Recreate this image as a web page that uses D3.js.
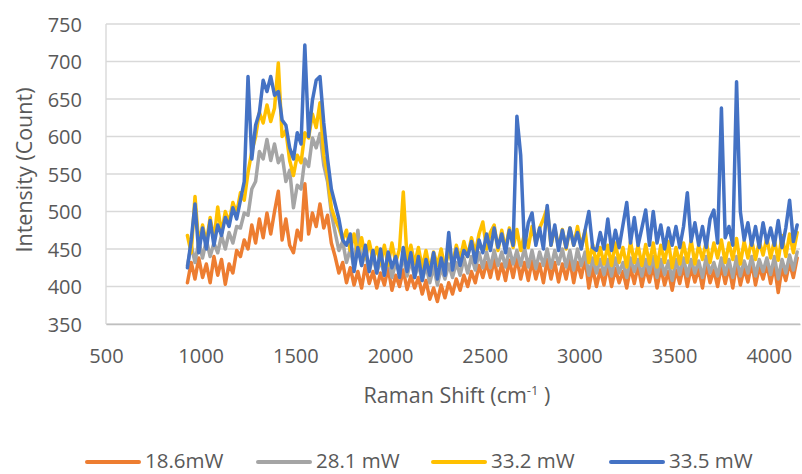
<!DOCTYPE html>
<html>
<head>
<meta charset="utf-8">
<script src="https://cdn.jsdelivr.net/npm/d3@7"></script>
<style>
    body { margin: 0; background: #fff; }
    text, tspan { font-family: "Open Sans", "Liberation Sans", sans-serif; fill: #595959; }
</style>
</head>
<body>
<svg id="chart" width="802" height="474"></svg>
<script>
// raman shift sampling grid, 930..4150 step 20
const ramanShift = d3.range(930, 4151, 20);

const seriesNames = ["18.6mW", "28.1 mW", "33.2 mW", "33.5 mW"];
const seriesColors = ["#ED7D31", "#A5A5A5", "#FFC000", "#4472C4"];

const xTicks = [500, 1000, 1500, 2000, 2500, 3000, 3500, 4000];
const yTicks = [350, 400, 450, 500, 550, 600, 650, 700, 750];

const p186 = [
    405, 432, 410, 438, 412, 430, 405, 440, 415, 436,
    403, 430, 418, 448, 440, 462, 450, 482, 458, 490,
    465, 498, 470, 500, 527, 462, 490, 455, 445, 475,
    462, 537, 470, 498, 480, 510, 478, 495, 458, 440,
    418, 432, 405, 425, 402, 420, 398, 428, 404, 420,
    398, 418, 402, 425, 395, 415, 400, 422, 396, 414,
    398, 412, 390, 408, 383, 398, 380, 402, 385, 405,
    390, 410, 395, 415, 400, 420, 405, 428, 412, 432,
    412, 436, 410, 430, 408, 435, 412, 438, 410, 432,
    408, 434, 410, 430, 405, 436, 410, 432, 406, 430,
    410, 435, 405, 432, 412, 438, 398, 425, 400, 422,
    402, 428, 400, 424, 405, 420, 398, 426, 404, 428,
    400, 424, 406, 428, 398, 425, 402, 420, 395, 422,
    404, 428, 400, 426, 406, 424, 398, 430, 405, 422,
    400, 428, 404, 426, 398, 430, 402, 424, 406, 432,
    402, 426, 410, 430, 404, 428, 392, 425, 408, 432,
    412, 438
];

const p281 = [
    428, 455, 432, 460, 438, 462, 440, 458, 445, 468,
    450, 472, 458, 480, 478, 498, 495, 530, 540, 580,
    570, 596, 568, 590, 565, 575, 540, 555, 505, 535,
    530, 570, 560, 598, 585, 604, 562, 540, 498, 472,
    448, 460, 432, 450, 425, 475, 428, 445, 420, 440,
    418, 436, 415, 440, 412, 432, 418, 440, 414, 435,
    412, 430, 408, 428, 405, 426, 402, 425, 410, 430,
    412, 432, 415, 438, 418, 440, 422, 445, 425, 446,
    425, 448, 428, 446, 426, 450, 430, 448, 428, 452,
    426, 448, 424, 446, 428, 450, 425, 448, 430, 450,
    426, 448, 422, 450, 428, 446, 415, 438, 418, 436,
    416, 436, 414, 438, 418, 432, 412, 438, 420, 436,
    414, 436, 418, 440, 412, 436, 416, 434, 408, 436,
    416, 438, 414, 436, 418, 434, 412, 440, 418, 432,
    414, 438, 416, 436, 412, 440, 414, 434, 418, 440,
    414, 436, 420, 438, 416, 440, 410, 436, 418, 442,
    422, 446
];

const p332 = [
    468, 445, 520, 455, 482, 458, 492, 462, 506, 470,
    500, 485, 512, 498, 525, 515, 552, 580, 600, 632,
    618, 642, 620, 638, 698, 600, 608, 568, 548, 575,
    565, 605, 598, 630, 612, 645, 575, 548, 505, 490,
    478, 462, 475, 448, 470, 442, 465, 438, 460, 436,
    452, 430, 455, 428, 458, 432, 450, 526, 436, 455,
    430, 452, 425, 448, 422, 446, 428, 450, 424, 448,
    430, 455, 436, 460, 440, 465, 445, 470, 486, 450,
    472, 482, 448, 475, 450, 478, 452, 476, 448, 470,
    452, 480, 458, 478, 490, 505, 455, 478, 452, 476,
    450, 478, 455, 480, 452, 475, 432, 456, 430, 452,
    430, 455, 428, 458, 432, 452, 426, 460, 432, 455,
    428, 456, 430, 458, 426, 455, 432, 460, 425, 452,
    430, 458, 432, 462, 430, 455, 436, 460, 432, 458,
    438, 462, 432, 458, 436, 464, 430, 460, 438, 462,
    436, 460, 442, 465, 438, 462, 435, 468, 440, 470,
    445, 472
];

const p335 = [
    425, 462, 510, 445, 478, 450, 488, 455, 482, 468,
    492, 480, 505, 490, 515, 540, 680, 570, 615, 632,
    675, 660, 680, 655, 660, 622, 615, 585, 570, 605,
    590, 722, 600, 648, 675, 680, 618, 570, 530, 510,
    490, 462, 455, 470, 420, 452, 428, 455, 420, 448,
    418, 450, 415, 446, 425, 440, 412, 452, 420, 445,
    412, 440, 408, 436, 415, 445, 410, 438, 415, 472,
    422, 450, 428, 448, 440, 460, 432, 462, 445, 470,
    448, 478, 452, 470, 445, 475, 455, 627, 575, 452,
    485, 498, 455, 478, 450, 508, 455, 482, 448, 475,
    452, 478, 455, 472, 450, 475, 500, 452, 448, 472,
    450, 490, 448, 475, 452, 482, 512, 458, 492, 455,
    478, 502, 455, 500, 458, 482, 450, 478, 455, 480,
    452, 480, 525, 460, 485, 455, 480, 452, 490, 502,
    458, 638, 465, 480, 455, 673, 500, 462, 485, 455,
    480, 452, 485, 458, 478, 455, 488, 452, 478, 515,
    460, 482
];

const seriesValues = [p186, p281, p332, p335];

function createAxis(svg, attr_area) {
    const scaleX = d3.scaleLinear()
        .domain([500, 4165])
        .range([attr_area.left, attr_area.right]);

    const scaleY = d3.scaleLinear()
        .domain([350, 750])
        .range([attr_area.bottom, attr_area.top]);

    // horizontal gridlines
    svg.append("g")
        .selectAll("line")
        .data(yTicks)
        .enter()
        .append("line")
        .attr("x1", attr_area.left)
        .attr("x2", attr_area.right)
        .attr("y1", d => scaleY(d))
        .attr("y2", d => scaleY(d))
        .attr("stroke", "#D9D9D9")
        .attr("stroke-width", 1.4);

    // left axis line
    svg.append("line")
        .attr("x1", attr_area.left)
        .attr("x2", attr_area.left)
        .attr("y1", attr_area.top)
        .attr("y2", attr_area.bottom)
        .attr("stroke", "#D9D9D9")
        .attr("stroke-width", 1.4);

    const axisX = d3.axisBottom(scaleX).tickValues(xTicks).tickFormat(d3.format("d")).tickSize(0).tickPadding(0);
    const axisY = d3.axisLeft(scaleY).tickValues(yTicks).tickSize(0).tickPadding(0);

    const gx = svg.append("g")
        .attr("transform", `translate(0, ${attr_area.bottom})`)
        .call(axisX);
    gx.select(".domain").attr("stroke", "#BFBFBF").attr("stroke-width", 1.4);
    gx.selectAll("text")
        .attr("y", 39)
        .attr("dy", 0)
        .style("font-size", "20px")
        .style("fill", "#595959");

    const gy = svg.append("g")
        .attr("transform", `translate(${attr_area.left - 24}, 0)`)
        .call(axisY);
    gy.select(".domain").remove();
    gy.selectAll("text")
        .attr("dy", "0.36em")
        .style("font-size", "20px")
        .style("fill", "#595959");

    return [scaleX, scaleY];
}

function createLineChart(svg, scaleX, scaleY) {
    const g = svg.append("g");

    seriesValues.forEach((values, k) => {
        const line = d3.line()
            .x((d, i) => scaleX(ramanShift[i]))
            .y(d => scaleY(d));

        g.append("path")
            .datum(values)
            .attr("fill", "none")
            .attr("stroke", seriesColors[k])
            .attr("stroke-width", 3.5)
            .attr("stroke-linejoin", "round")
            .attr("stroke-linecap", "round")
            .attr("d", line);
    });
}

function createTitles(svg) {
    svg.append("text")
        .attr("transform", "translate(32, 170) rotate(-90)")
        .attr("text-anchor", "middle")
        .style("font-size", "21.5px")
        .text("Intensity (Count)");

    const t = svg.append("text")
        .attr("x", 457)
        .attr("y", 403)
        .attr("text-anchor", "middle")
        .style("font-size", "21.5px");
    t.append("tspan").text("Raman Shift (cm");
    t.append("tspan").attr("dy", -8).style("font-size", "13px").style("fill", "#595959").text("-1");
    t.append("tspan").attr("dy", 8).text(" )");
}

function createLegend(svg) {
    const legendX = [87, 258, 433, 611];
    const legendY = 462;

    const items = svg.append("g")
        .selectAll("g")
        .data(seriesNames)
        .enter()
        .append("g")
        .attr("transform", (d, i) => `translate(${legendX[i]}, ${legendY})`);

    items.append("line")
        .attr("x1", 0)
        .attr("x2", 52)
        .attr("stroke", (d, i) => seriesColors[i])
        .attr("stroke-width", 4)
        .attr("stroke-linecap", "round");

    items.append("text")
        .attr("x", 58)
        .attr("y", 6)
        .style("font-size", "20.5px")
        .text(d => d);
}

function drawGraph() {
    const svg = d3.select("#chart");
    svg.selectAll("*").remove();

    const attr_area = {
        left: 106,
        right: 800,
        top: 24,
        bottom: 324
    };

    const [scX, scY] = createAxis(svg, attr_area);
    createLineChart(svg, scX, scY);
    createTitles(svg);
    createLegend(svg);
}

drawGraph();
</script>
</body>
</html>
